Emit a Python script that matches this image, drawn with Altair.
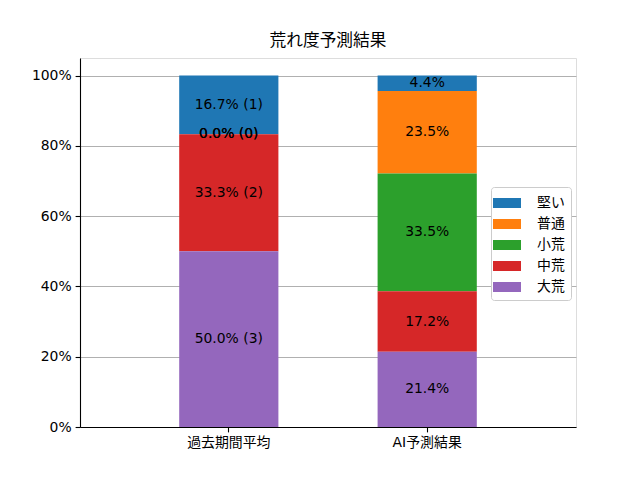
import altair as alt
import pandas as pd

periods = ["過去期間平均", "AI予測結果"]
categories = ["堅い", "普通", "小荒", "中荒", "大荒"]
colors = ["#1f77b4", "#ff7f0e", "#2ca02c", "#d62728", "#9467bd"]
past_pct = [16.7, 0.0, 0.0, 33.3, 50.0]
past_counts = [1, 0, 0, 2, 3]
ai_pct = [4.4, 23.5, 33.5, 17.2, 21.4]
y_ticks = [0, 0.2, 0.4, 0.6, 0.8, 1.0]

rows = []
for i, c in enumerate(categories):
    rows.append({"period": periods[0], "cat": c, "rank": len(categories) - i,
                 "value": past_pct[i] / 100, "label": f"{past_pct[i]:.1f}% ({past_counts[i]})"})
    rows.append({"period": periods[1], "cat": c, "rank": len(categories) - i,
                 "value": ai_pct[i] / 100, "label": f"{ai_pct[i]:.1f}%"})
df = pd.DataFrame(rows)

FONT = "DejaVu Sans, Noto Sans CJK JP"

base = alt.Chart(df).transform_stack(
    stack="value", as_=["y0", "y1"], groupby=["period"], sort=[{"field": "rank", "order": "ascending"}]
).transform_calculate(mid="(datum.y0 + datum.y1) / 2")

xenc = alt.X("period:N", sort=periods, title=None,
             scale=alt.Scale(paddingInner=0.5, paddingOuter=0.5),
             axis=alt.Axis(labelAngle=0, grid=False, labelFontSize=13.9, labelColor="black",
                           tickColor="black", domainColor="black", tickSize=4.9, labelPadding=4,
                           labelFont=FONT, tickWidth=1.1, domainWidth=1.1))

bars = base.mark_bar().encode(
    x=xenc,
    y=alt.Y("y0:Q", title=None,
            scale=alt.Scale(domain=[0, 1.05], nice=False),
            axis=alt.Axis(values=y_ticks, format=".0%", labelFontSize=13.9, labelColor="black",
                          tickColor="black", domainColor="black", tickSize=4.9, labelPadding=4,
                          gridColor="#b0b0b0", gridWidth=1.1, labelFont=FONT,
                          tickWidth=1.1, domainWidth=1.1)),
    y2="y1:Q",
    color=alt.Color("cat:N", scale=alt.Scale(domain=categories, range=colors),
                    legend=alt.Legend(title=None, orient="none", legendX=411, legendY=129,
                                      symbolType="M-1.4,-0.5L1.4,-0.5L1.4,0.5L-1.4,0.5Z",
                                      symbolSize=400, symbolStrokeWidth=0, symbolOpacity=1,
                                      labelFontSize=13.9, labelFont=FONT, labelColor="black",
                                      rowPadding=4, padding=6, strokeColor="#cccccc",
                                      fillColor="white", cornerRadius=3, labelOffset=20,
                                      offset=0)),
)

texts = base.mark_text(fontSize=13.9, font=FONT, color="black").encode(
    x=alt.X("period:N", sort=periods),
    y=alt.Y("mid:Q"),
    text="label:N",
)

chart = (bars + texts).properties(
    width=496, height=369,
    title=alt.TitleParams("荒れ度予測結果", fontSize=16.7, fontWeight="normal", font=FONT,
                          anchor="middle", offset=8, color="black"),
    autosize=alt.AutoSizeParams(type="none"),
    padding={"left": 72, "top": 50, "right": 56, "bottom": 45},
).configure_view(stroke="black", strokeWidth=1.1).configure(background="white")

chart.save("out.html", embed_options={"renderer": "svg", "actions": False})
